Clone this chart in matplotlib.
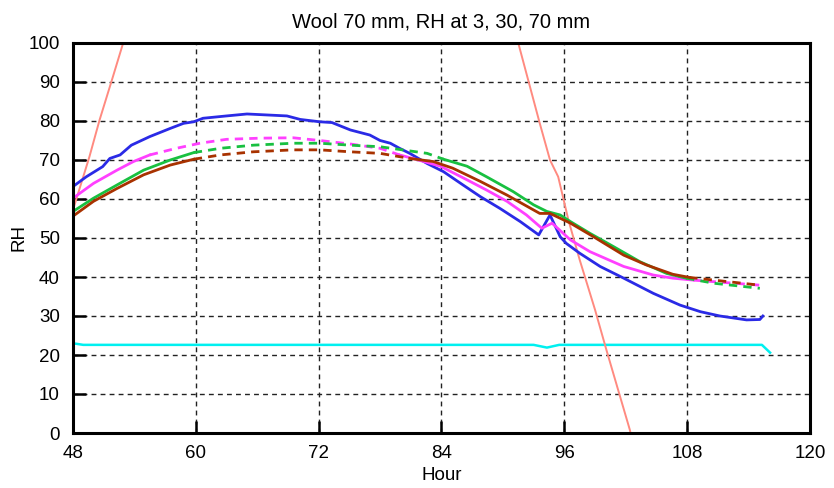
import numpy as np
import matplotlib
matplotlib.use("Agg")
import matplotlib.pyplot as plt

plt.rcParams['font.family'] = ['Liberation Sans', 'DejaVu Sans']

# RH readings (hour, %RH)
blue_h = [48.0, 49.3, 50.9, 51.6, 52.6, 53.7, 55.5, 57.5, 58.8, 59.8, 60.7, 63.0, 65.0, 68.9,
          70.2, 72.1, 73.3, 75.1, 77.0, 78.0, 79.0, 79.9, 80.9, 82.6, 84.2, 86.1, 87.8, 89.7,
          91.7, 93.5, 94.6, 95.6, 96.2, 97.5, 99.5, 101.8, 104.7, 107.3, 109.3, 111.2, 113.8,
          115.1, 115.4]
blue_v = [63.2, 65.7, 68.3, 70.4, 71.3, 73.8, 76.0, 78.1, 79.4, 79.8, 80.7, 81.3, 81.8, 81.3,
          80.4, 79.8, 79.6, 77.7, 76.4, 75.0, 74.3, 73.0, 71.7, 69.1, 67.0, 63.6, 60.6, 57.6,
          54.2, 50.8, 55.9, 50.3, 48.6, 46.1, 42.7, 39.7, 35.8, 32.8, 31.1, 30.0, 29.0,
          29.1, 30.0]

magenta_h = [48.0, 50.0, 52.3, 53.9, 55.5, 58.1, 60.4, 63.0, 66.3, 69.5, 72.1, 75.1, 78.0,
             79.9, 81.2, 83.9, 86.5, 88.4, 90.4, 92.3, 93.8, 94.8, 96.6, 98.5, 101.8, 104.7,
             106.6, 108.6, 115.1]
magenta_v = [60.2, 64.0, 67.4, 69.6, 71.3, 73.0, 74.3, 75.3, 75.6, 75.7, 75.0, 74.1, 73.0,
             71.3, 70.4, 68.4, 64.9, 62.3, 59.4, 55.9, 52.5, 53.8, 49.5, 46.5, 42.7, 40.5,
             39.7, 39.2, 37.9]

green_h = [48.0, 50.0, 52.3, 54.9, 57.5, 59.8, 62.4, 65.6, 69.5, 72.1, 75.1, 78.0, 79.9, 82.6,
           84.2, 86.5, 88.4, 91.0, 93.0, 94.3, 95.6, 96.6, 98.5, 100.8, 103.4, 106.0, 107.9,
           110.6, 115.1]
green_v = [56.8, 60.2, 63.6, 67.4, 70.0, 71.9, 73.0, 73.8, 74.3, 74.3, 73.8, 73.4, 72.7, 71.7,
           70.2, 68.4, 65.7, 61.9, 58.5, 56.8, 55.9, 54.2, 51.2, 47.8, 43.9, 40.9, 39.7,
           38.4, 37.1]

brown_h = [48.0, 50.0, 52.3, 54.9, 57.5, 59.8, 62.4, 65.6, 69.5, 72.1, 75.1, 78.0, 80.9, 83.2,
           85.1, 87.8, 90.4, 93.6, 94.6, 96.6, 98.8, 101.8, 104.0, 106.6, 108.2, 115.1]
brown_v = [55.6, 59.4, 62.7, 66.2, 68.7, 70.2, 71.3, 72.1, 72.6, 72.6, 72.1, 71.7, 70.4, 69.6,
           67.9, 64.5, 61.0, 56.3, 56.3, 53.8, 50.4, 45.6, 43.1, 40.7, 39.9, 37.9]

cyan_h = [48.0, 49.0, 50.0, 93.0, 94.3, 95.5, 115.3, 116.1]
cyan_v = [23.0, 22.6, 22.6, 22.6, 21.9, 22.6, 22.6, 20.6]

salmon_rise_h = [48.0, 49.6, 50.6, 51.8, 52.9, 53.6]
salmon_rise_v = [57.2, 70.8, 80.3, 90.5, 100.0, 104.0]
salmon_fall_h = [91.2, 91.5, 93.6, 94.6, 95.4, 96.4, 97.5, 99.0, 100.1, 102.4, 102.7]
salmon_fall_v = [104.0, 100.0, 79.4, 70.0, 65.7, 54.6, 44.4, 31.6, 21.4, 0.8, -3.0]

x_ticks = [48, 60, 72, 84, 96, 108, 120]
y_ticks = list(range(0, 101, 10))

fig = plt.figure(figsize=(8.34, 4.88), dpi=100)
ax = fig.add_axes([73 / 834, 55 / 488, 737 / 834, 390 / 488])


def draw_series(ax, h, v, color, dashed_spans, lw=2.0, z=3):
    """Draw a series solid, switching to a dashed line inside the given hour spans."""
    h = np.asarray(h)
    v = np.asarray(v)
    mids = (h[:-1] + h[1:]) / 2
    is_dash = np.zeros(len(mids), dtype=bool)
    for a, b in dashed_spans:
        is_dash |= (mids >= a) & (mids <= b)
    start = 0
    for i in range(1, len(mids) + 1):
        if i == len(mids) or is_dash[i] != is_dash[start]:
            seg = slice(start, i + 1)
            if is_dash[start]:
                ax.plot(h[seg], v[seg], color=color, lw=lw, ls=(0, (3.0, 2.2)),
                        solid_capstyle='butt', zorder=z)
            else:
                ax.plot(h[seg], v[seg], color=color, lw=lw, solid_joinstyle='round', zorder=z)
            start = i


ax.plot(cyan_h, cyan_v, color='#00f0f0', lw=1.8, zorder=3)
ax.plot(salmon_rise_h, salmon_rise_v, color='#ff8a80', lw=1.4, zorder=3)
ax.plot(salmon_fall_h, salmon_fall_v, color='#ff8a80', lw=1.4, zorder=3)
draw_series(ax, blue_h, blue_v, '#2a2ae6', [])
draw_series(ax, magenta_h, magenta_v, '#ff40ff', [(55.2, 80.0), (108.0, 117)])
draw_series(ax, green_h, green_v, '#18c040', [(58.8, 84.0), (107.9, 117)])
draw_series(ax, brown_h, brown_v, '#a83200', [(59.8, 81.0), (108.2, 117)])

ax.set_xlim(48, 120)
ax.set_ylim(0, 100)
ax.set_xticks(x_ticks)
ax.set_yticks(y_ticks)
ax.tick_params(direction='in', length=9, width=1.8, labelsize=13.5, pad=9,
               top=False, right=False)
ax.tick_params(axis='y', pad=9.5)
ax.grid(True, color='#222222', lw=1.0, ls=(0, (3.5, 3.0)), zorder=1)
ax.set_axisbelow(True)
for sp in ax.spines.values():
    sp.set_linewidth(2.2)
    sp.set_zorder(5)

ax.set_title('Wool 70 mm, RH at 3, 30, 70 mm', fontsize=14.5, pad=11)
ax.set_xlabel('Hour', fontsize=13.5, labelpad=3)
ax.set_ylabel('RH', fontsize=13.5, labelpad=1)

fig.savefig('out.png', dpi=100)
